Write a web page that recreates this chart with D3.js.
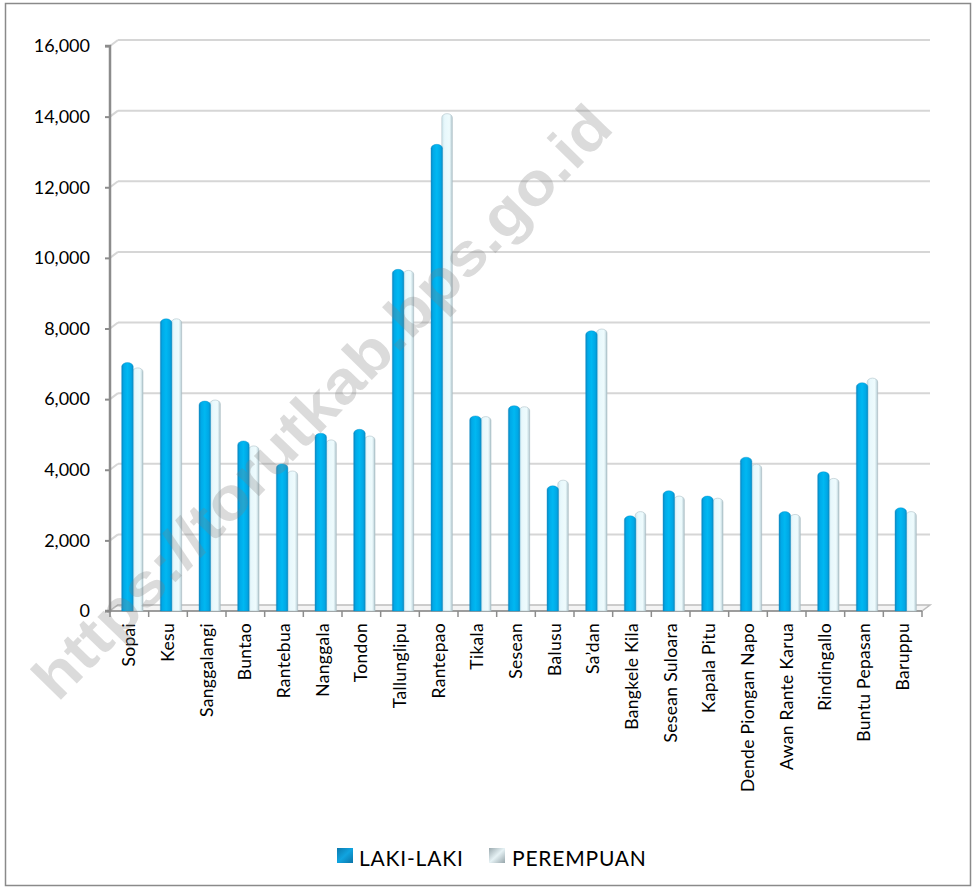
<!DOCTYPE html>
<html>
<head>
<meta charset="utf-8">
<script src="https://cdn.jsdelivr.net/npm/d3@7"></script>
<style>
  html, body { margin: 0; padding: 0; background: #ffffff; }
  svg { display: block; }
  text { font-family: Lato, "Open Sans", "DejaVu Sans", sans-serif; fill: #000; }
</style>
</head>
<body>
<svg id="chart" width="977" height="891"></svg>
<script>
// Penduduk menurut kecamatan dan jenis kelamin
const categories = [
  "Sopai", "Kesu", "Sanggalangi", "Buntao", "Rantebua", "Nanggala", "Tondon",
  "Tallunglipu", "Rantepao", "Tikala", "Sesean", "Balusu", "Sa\u2019dan",
  "Bangkele Kila", "Sesean Suloara", "Kapala Pitu", "Dende Piongan Napo",
  "Awan Rante Karua", "Rindingallo", "Buntu Pepasan", "Baruppu"
];
const lakiLaki = [
  6950, 8190, 5860, 4730, 4080, 4950, 5060, 9590, 13130, 5440, 5730,
  3460, 7850, 2610, 3320, 3170, 4270, 2730, 3860, 6380, 2840
];
const perempuan = [
  6800, 8190, 5890, 4590, 3880, 4760, 4870, 9560, 14000, 5420, 5700,
  3620, 7900, 2730, 3170, 3110, 4070, 2650, 3670, 6510, 2730
];
const seriesNames = ["LAKI-LAKI", "PEREMPUAN"];
const yTicks = [0, 2000, 4000, 6000, 8000, 10000, 12000, 14000, 16000];
const watermark = "https://torutkab.bps.go.id";

const svg = d3.select("#chart");

// plot geometry (front plane) and depth offset of the back wall
const plotLeft = 110, plotRight = 922, plotTop = 46, plotBottom = 611;
const depthX = 8, depthY = -6;

const x = d3.scaleBand().domain(categories).range([plotLeft, plotRight]).padding(0);
const y = d3.scaleLinear().domain([0, 16000]).range([plotBottom, plotTop]);

// outer frame
svg.append("rect")
  .attr("x", 5.5).attr("y", 3.5).attr("width", 965).attr("height", 882)
  .attr("fill", "#fff").attr("stroke", "#8a8a8a").attr("stroke-width", 1.5);

const defs = svg.append("defs");
function grad(id, stops, diag) {
  const g = defs.append("linearGradient").attr("id", id)
    .attr("x1", "0%").attr("x2", "100%").attr("y1", "0%").attr("y2", diag ? "100%" : "0%");
  stops.forEach(([o, c]) => g.append("stop").attr("offset", o).attr("stop-color", c));
}
grad("gL", [["0%", "#0a86c0"], ["18%", "#00aae8"], ["50%", "#00b8f2"], ["82%", "#00a8e6"], ["100%", "#0a8cc4"]]);
grad("gP", [["0%", "#cfe6ec"], ["28%", "#e8f8fc"], ["72%", "#eefbfd"], ["90%", "#c9dde3"], ["100%", "#a6b9bf"]]);
grad("iconL", [["0%", "#0c79ad"], ["50%", "#10a4e0"], ["100%", "#0b73a6"]], true);
grad("iconP", [["0%", "#9aa9ae"], ["50%", "#e6f2f5"], ["100%", "#96a5aa"]], true);

// back-wall gridlines with the short slanted link to the axis
const grid = svg.append("g");
yTicks.forEach(t => {
  const yy = y(t);
  if (t > 0) {
    grid.append("line")
      .attr("x1", plotLeft + depthX).attr("x2", plotRight + depthX)
      .attr("y1", yy + depthY).attr("y2", yy + depthY)
      .attr("stroke", "#d6d6d6").attr("stroke-width", 2);
  }
  grid.append("line")
    .attr("x1", plotLeft).attr("y1", yy)
    .attr("x2", plotLeft + depthX).attr("y2", yy + depthY)
    .attr("stroke", "#d6d6d6").attr("stroke-width", 2);
});

// floor
svg.append("path")
  .attr("d", `M${plotLeft},${plotBottom} L${plotRight},${plotBottom} L${plotRight + depthX},${plotBottom + depthY} L${plotLeft + depthX},${plotBottom + depthY} Z`)
  .attr("fill", "#f4f4f4").attr("stroke", "#bdbdbd").attr("stroke-width", 1.5);

// y axis
const yAxis = d3.axisLeft(y).tickValues(yTicks).tickFormat(d3.format(",")).tickSize(5).tickPadding(15);
const gy = svg.append("g").attr("transform", `translate(${plotLeft},0)`).call(yAxis);
gy.select(".domain").attr("stroke", "#8c8c8c").attr("stroke-width", 2.5)
  .attr("d", `M-5,${plotTop}H0V${plotBottom}H-5`);
gy.selectAll(".tick line").attr("stroke", "#8c8c8c").attr("stroke-width", 2);
gy.selectAll(".tick text").attr("font-size", 18).attr("fill", "#000")
  .style("font-family", "Lato, 'Open Sans', sans-serif");

// x axis: boundary ticks + rotated labels
const boundaries = categories.map(c => x(c)).concat([plotRight]);
svg.append("g").selectAll("line").data(boundaries).join("line")
  .attr("x1", d => d).attr("x2", d => d)
  .attr("y1", plotBottom).attr("y2", plotBottom + 6)
  .attr("stroke", "#8c8c8c").attr("stroke-width", 1.5);
svg.append("line").attr("x1", plotLeft).attr("x2", plotRight).attr("y1", plotBottom).attr("y2", plotBottom)
  .attr("stroke", "#8c8c8c").attr("stroke-width", 1.5);

const xAxis = d3.axisBottom(x).tickSize(0).tickPadding(0);
const gx = svg.append("g").attr("transform", `translate(0,${plotBottom})`).call(xAxis);
gx.select(".domain").remove();
gx.selectAll(".tick text")
  .attr("font-size", 17.5)
  .attr("fill", "#000")
  .attr("text-anchor", "end")
  .attr("transform", "translate(0,12) rotate(-90)")
  .attr("x", 0).attr("y", 0).attr("dy", "0.35em")
  .style("letter-spacing", "0.3px")
  .style("font-family", "Lato, 'Open Sans', sans-serif");

// columns with domed tops
function column(x0, w, v) {
  const yt = y(v) - 3, ry = 4;
  return `M${x0},${plotBottom} L${x0},${yt + ry} A${w / 2},${ry} 0 0 1 ${x0 + w},${yt + ry} L${x0 + w},${plotBottom} Z`;
}
const bars = svg.append("g");
categories.forEach((c, i) => {
  const b = x(c);
  bars.append("path").attr("d", column(b + 22.5, 10.5, perempuan[i]))
    .attr("fill", "url(#gP)").attr("stroke", "#b0c3c9").attr("stroke-width", 0.6);
  bars.append("path").attr("d", column(b + 11.7, 11.5, lakiLaki[i]))
    .attr("fill", "url(#gL)").attr("stroke", "#0a8cc4").attr("stroke-width", 0.4);
});

// legend
const legend = svg.append("g");
[["url(#iconL)", 337, 359], ["url(#iconP)", 489, 512]].forEach(([fill, ix, tx], k) => {
  legend.append("rect").attr("x", ix).attr("y", 848).attr("width", 16).attr("height", 15)
    .attr("fill", fill);
  legend.append("text").attr("x", tx).attr("y", 866).attr("font-size", 21)
    .style("letter-spacing", "0.8px")
    .text(seriesNames[k]);
});

// diagonal watermark
svg.append("text")
  .attr("transform", "translate(322,402) rotate(-45.8)")
  .attr("text-anchor", "middle").attr("dominant-baseline", "central")
  .attr("textLength", 800).attr("lengthAdjust", "spacingAndGlyphs")
  .style("font-family", "'Liberation Sans', Arial, sans-serif")
  .style("font-weight", "bold").style("font-size", "60px")
  .style("fill", "#7f7f7f").style("fill-opacity", 0.28)
  .text(watermark);
</script>
</body>
</html>
